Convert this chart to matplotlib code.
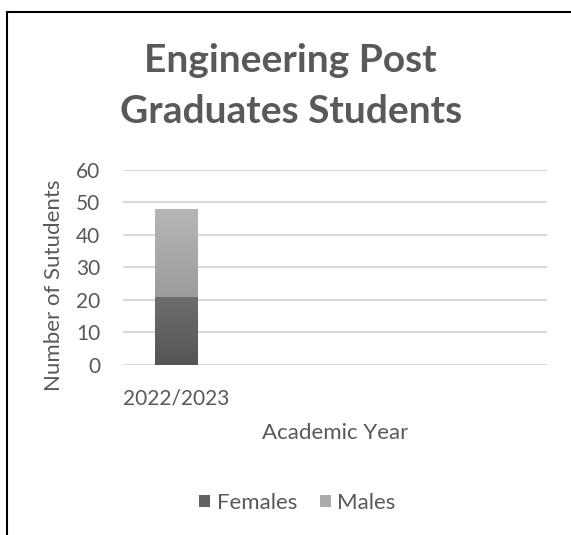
import matplotlib
matplotlib.use("Agg")
import numpy as np
import matplotlib.pyplot as plt
from matplotlib.patches import Rectangle
from matplotlib.colors import LinearSegmentedColormap

# chart data
years = ["2022/2023", "", "", ""]
females = [21, 0, 0, 0]
males = [27, 0, 0, 0]
yticks = [0, 10, 20, 30, 40, 50, 60]
title_lines = ["Engineering Post", "Graduates Students"]

plt.rcParams['font.family'] = ['Lato', 'DejaVu Sans']
txt = '#595959'
fs = 15

fig = plt.figure(figsize=(5.71, 5.35), dpi=100)
ax = fig.add_axes([0.2154, 0.3178, 0.7426, 0.3645])

x = range(len(years))
fbars = ax.bar(x, females, width=0.4, color='#626262', label='Females', zorder=3)
mbars = ax.bar(x, males, width=0.4, bottom=females, color='#ababab', label='Males', zorder=3)

# vertical gradient fill like the office chart
def shade(bars, top, bottom):
    cmap = LinearSegmentedColormap.from_list('g', [bottom, top])
    for b in bars:
        if b.get_height() <= 0:
            continue
        x0, y0 = b.get_x(), b.get_y()
        im = ax.imshow(np.linspace(0, 1, 64).reshape(-1, 1), cmap=cmap, origin='lower',
                       extent=[x0, x0 + b.get_width(), y0, y0 + b.get_height()],
                       aspect='auto', zorder=3.5)
        im.set_clip_path(b)

shade(fbars, '#6e6e6e', '#555555')
shade(mbars, '#b6b6b6', '#9c9c9c')

ax.set_xlim(-0.5, len(years) - 0.5)
ax.set_ylim(0, 60)
ax.set_yticks(yticks)
ax.set_xticks(list(x))
ax.set_xticklabels(years)
ax.tick_params(length=0, labelsize=fs, colors=txt, pad=17)
ax.tick_params(axis='y', pad=16.5)
for s in ax.spines.values():
    s.set_visible(False)
ax.yaxis.grid(True, color='#d9d9d9', linewidth=1.5, zorder=0)

fig.text(0.587, 0.19, 'Academic Year', ha='center', va='center', fontsize=16, color=txt)
fig.text(0.095, 0.467, 'Number of Sutudents', ha='center', va='center', rotation=90,
         fontsize=16, color=txt)
# title, one baseline per line
for line, yb in zip(title_lines, [0.8654, 0.7701]):
    fig.text(0.509, yb, line, ha='center', va='baseline', fontsize=28,
             fontweight='bold', color=txt)

handles, labels = ax.get_legend_handles_labels()
fig.legend(handles, labels, loc='center', bbox_to_anchor=(0.521, 0.06), ncol=2, frameon=False,
           fontsize=16, labelcolor=txt, handlelength=0.5, handleheight=0.5,
           handletextpad=0.3, columnspacing=1.0)

# outer frame
fig.add_artist(Rectangle((6.5 / 571, -0.1), 1.2, (535 - 11.5) / 535 + 0.1, transform=fig.transFigure,
                         fill=False, edgecolor='black', linewidth=1.5))

fig.savefig('out.png', dpi=100)
